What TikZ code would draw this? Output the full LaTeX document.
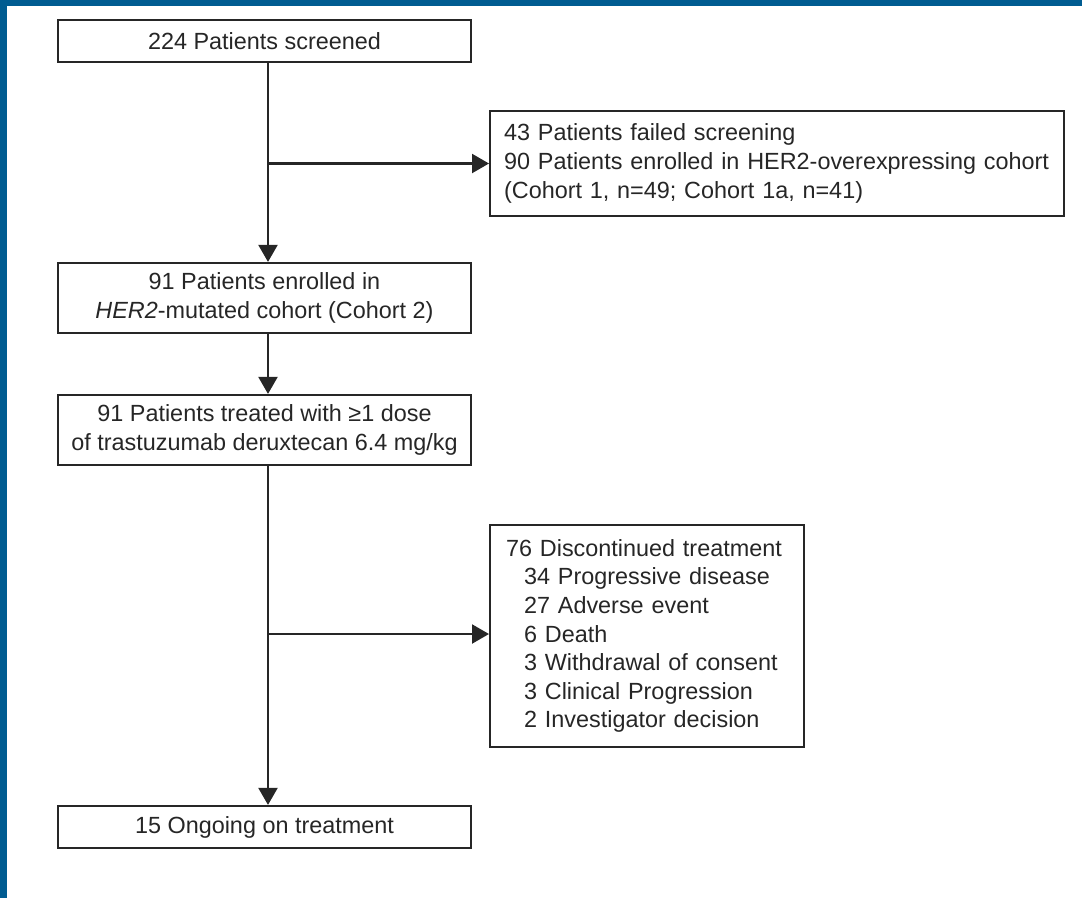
\documentclass[tikz,border=0pt]{standalone}
\usepackage{fontspec}
\setmainfont{Liberation Sans}
\usetikzlibrary{arrows.meta,positioning}
\definecolor{frameblue}{RGB}{0,92,145}
\definecolor{inkgray}{RGB}{38,38,38}

\tikzset{
	box/.style={draw=inkgray, line width=2.2pt, rectangle, text=inkgray, inner ysep=0pt, font=\fontsize{23.4}{28.6}\selectfont},
	mainbox/.style={box, minimum width=413pt, align=center},
	sidebox/.style={box, align=left, anchor=west},
	flow/.style={draw=inkgray, line width=2.2pt, -{Triangle[length=17pt,width=19pt]}},
	spine/.style={draw=inkgray, line width=2.2pt}
}

\begin{document}
\begin{tikzpicture}[x=1pt, y=-1pt]
		
		\useasboundingbox (0,0) rectangle (1082,898);
		\fill[frameblue] (0,0) rectangle (1082,6);
		\fill[frameblue] (0,0) rectangle (7,898);
		
		\node[mainbox, minimum height=42pt] (screened) at (264.5,41) {224 Patients screened};
		
		\node[sidebox, text width=546pt, inner xsep=14pt, minimum height=105pt] (failed) at (489,163.5) {43 Patients failed screening\\90 Patients enrolled in HER2-overexpressing cohort\\(Cohort 1, n=49; Cohort 1a, n=41)};
		
		\node[mainbox, minimum height=70pt] (enrolled) at (264.5,298) {91 Patients enrolled in\\\textit{HER2}-mutated cohort (Cohort 2)};
		
		\node[mainbox, minimum height=70pt] (treated) at (264.5,430) {91 Patients treated with ≥1 dose\\of trastuzumab deruxtecan 6.4 mg/kg};
		
		\node[sidebox, text width=282pt, inner xsep=16pt, minimum height=222pt] (stopped) at (489,636) {76 Discontinued treatment\\
			\hspace*{18pt}34 Progressive disease\\
			\hspace*{18pt}27 Adverse event\\
			\hspace*{18pt}6 Death\\
			\hspace*{18pt}3 Withdrawal of consent\\
			\hspace*{18pt}3 Clinical Progression\\
			\hspace*{18pt}2 Investigator decision};
		
		\node[mainbox, minimum height=42pt] (ongoing) at (264.5,827) {15 Ongoing on treatment};
		
		\coordinate (j1) at (268,163.5);
		\coordinate (j2) at (268,634);
		
		\draw[flow] ([xshift=3.5pt]screened.south) -- ([xshift=3.5pt]enrolled.north);
		\draw[flow] (j1) -- (j1 -| failed.west);
		\draw[flow] ([xshift=3.5pt]enrolled.south) -- ([xshift=3.5pt]treated.north);
		\draw[flow] ([xshift=3.5pt]treated.south) -- ([xshift=3.5pt]ongoing.north);
		\draw[flow] (j2) -- (j2 -| stopped.west);
		
	\end{tikzpicture}
\end{document}
